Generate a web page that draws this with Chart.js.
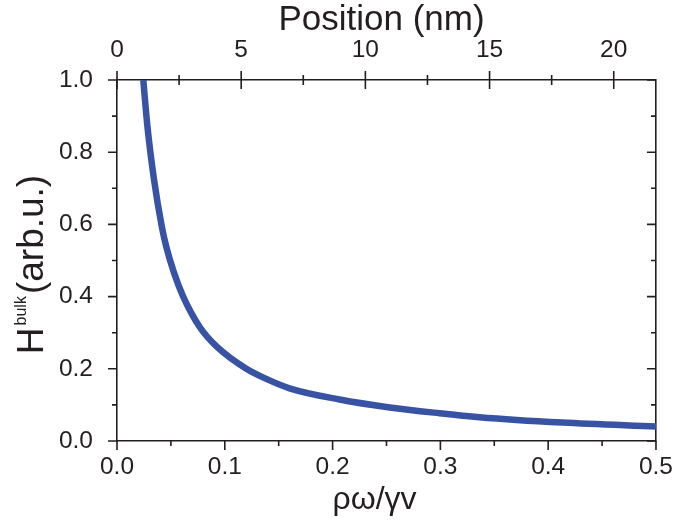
<!DOCTYPE html>
<html>
<head>
<meta charset="utf-8">
<script src="https://cdn.jsdelivr.net/npm/chart.js@4.4.1/dist/chart.umd.min.js"></script>
<style>
  html, body { margin: 0; padding: 0; background: #ffffff; }
  #wrap { width: 677px; height: 522px; position: relative; }
</style>
</head>
<body>
<div id="wrap"><canvas id="c" width="677" height="522"></canvas></div>
<script>
// ---- data ----
const rhoOmega = [0.0244, 0.0281, 0.0343, 0.0417, 0.046, 0.053, 0.0614, 0.0769, 0.0923, 0.120, 0.140, 0.160, 0.2065, 0.253, 0.299, 0.336, 0.413, 0.5];
const hBulk    = [1.0,    0.875,  0.725,  0.592,  0.535, 0.465, 0.400,  0.315,  0.262,  0.200, 0.170, 0.146, 0.115,  0.093, 0.077, 0.066, 0.051, 0.040];

const bottomRange = [0, 0.5];
const bottomMajorStep = 0.1;
const bottomMinorStep = 0.05;
const leftRange = [0, 1.0];
const leftMajorStep = 0.2;
const leftMinorStep = 0.1;
const topRange = [0, 21.7];      // Position (nm)
const topTickValues = [0, 5, 10, 15, 20];
const topMajorStep = 5;
const topMinorStep = 2.5;

const topTitle = 'Position (nm)';
const bottomTitle = 'ρω/γv';
const yTitleMain = 'H';
const yTitleSup = 'bulk';
const yTitleRest = '(arb.u.)';

// ---- styling ----
const INK = '#231f20';
const LINE = '#3953a4';
const FONT = '"Liberation Sans", Arial, sans-serif';
const tickFont = { family: FONT, size: 24.5 };

const points = rhoOmega.map((x, i) => ({ x: x, y: hBulk[i] }));

function fixSize(prop, val) { return function (scale) { scale[prop] = val; }; }

const tickPlugin = {
  id: 'ticksAndTitles',
  afterDraw(chart) {
    const ctx = chart.ctx;
    const a = chart.chartArea;
    const sx = chart.scales.x, sy = chart.scales.y, st = chart.scales.xTop;
    ctx.save();
    ctx.strokeStyle = INK;
    ctx.lineWidth = 1.6;
    ctx.beginPath();
    const eps = 1e-9;
    // bottom ticks (outward)
    for (let v = bottomRange[0]; v <= bottomRange[1] + eps; v += bottomMinorStep) {
      const px = sx.getPixelForValue(v);
      const major = Math.abs(v / bottomMajorStep - Math.round(v / bottomMajorStep)) < 1e-6;
      ctx.moveTo(px, a.bottom);
      ctx.lineTo(px, a.bottom + (major ? 9 : 5));
    }
    // left ticks (outward) and right ticks (inward)
    for (let v = leftRange[0]; v <= leftRange[1] + eps; v += leftMinorStep) {
      const py = sy.getPixelForValue(v);
      const major = Math.abs(v / leftMajorStep - Math.round(v / leftMajorStep)) < 1e-6;
      ctx.moveTo(a.left, py);
      ctx.lineTo(a.left - (major ? 9 : 5), py);
      ctx.moveTo(a.right, py);
      ctx.lineTo(a.right - (major ? 9 : 5), py);
    }
    // top ticks (crossing)
    for (let v = topRange[0]; v <= topRange[1] + eps; v += topMinorStep) {
      const px = st.getPixelForValue(v);
      const major = Math.abs(v / topMajorStep - Math.round(v / topMajorStep)) < 1e-6;
      const L = major ? 9 : 5;
      ctx.moveTo(px, a.top - L);
      ctx.lineTo(px, a.top + L);
    }
    ctx.stroke();

    // titles
    ctx.fillStyle = INK;
    ctx.textAlign = 'center';
    ctx.textBaseline = 'alphabetic';
    ctx.font = '35px ' + FONT;
    ctx.fillText(topTitle, (a.left + a.right) / 2 - 5, 30);
    ctx.font = '32px ' + FONT;
    ctx.fillText(bottomTitle, (a.left + a.right) / 2 - 12, 509);

    // y title with superscript, rotated
    const big = '37px ' + FONT, small = '16px ' + FONT;
    ctx.font = big; const wH = ctx.measureText(yTitleMain).width;
    const wR = ctx.measureText(yTitleRest).width;
    ctx.font = small; const wS = ctx.measureText(yTitleSup).width;
    const total = wH + 2 + wS + 2 + wR;
    ctx.translate(43, (a.top + a.bottom) / 2 + 4);
    ctx.rotate(-Math.PI / 2);
    ctx.textAlign = 'left';
    let x0 = -total / 2;
    ctx.font = big; ctx.fillText(yTitleMain, x0, 0); x0 += wH + 2;
    ctx.font = small; ctx.fillText(yTitleSup, x0, -17); x0 += wS + 2;
    ctx.font = big; ctx.fillText(yTitleRest, x0, 0);
    ctx.restore();
  }
};

new Chart(document.getElementById('c'), {
  type: 'line',
  data: {
    datasets: [{
      data: points,
      borderColor: LINE,
      borderWidth: 6.5,
      pointRadius: 0,
      fill: false,
      cubicInterpolationMode: 'monotone',
      clip: 0
    }]
  },
  options: {
    responsive: false,
    animation: false,
    devicePixelRatio: 1,
    layout: { padding: 0 },
    plugins: { legend: { display: false }, tooltip: { enabled: false } },
    scales: {
      x: {
        type: 'linear', position: 'bottom',
        min: bottomRange[0], max: bottomRange[1],
        grid: { display: false },
        border: { display: true, color: INK, width: 1.6 },
        ticks: { stepSize: bottomMajorStep, color: INK, font: tickFont, padding: 4, maxRotation: 0,
                 callback: v => v.toFixed(1) },
        afterFit: fixSize('height', 81)
      },
      xTop: {
        type: 'linear', position: 'top',
        min: topRange[0], max: topRange[1],
        grid: { display: false },
        border: { display: true, color: INK, width: 1.6 },
        ticks: { color: INK, font: tickFont, padding: 7, maxRotation: 0,
                 callback: v => String(v) },
        afterBuildTicks: function (scale) { scale.ticks = topTickValues.map(v => ({ value: v })); },
        afterFit: fixSize('height', 80)
      },
      y: {
        type: 'linear', position: 'left',
        min: leftRange[0], max: leftRange[1],
        grid: { display: false },
        border: { display: true, color: INK, width: 1.6 },
        ticks: { stepSize: leftMajorStep, color: INK, font: tickFont, padding: 16,
                 callback: v => v.toFixed(1) },
        afterFit: fixSize('width', 117)
      },
      yRight: {
        type: 'linear', position: 'right',
        min: leftRange[0], max: leftRange[1],
        grid: { display: false },
        border: { display: true, color: INK, width: 1.6 },
        ticks: { display: false },
        afterFit: fixSize('width', 20)
      }
    }
  },
  plugins: [tickPlugin]
});
</script>
</body>
</html>
